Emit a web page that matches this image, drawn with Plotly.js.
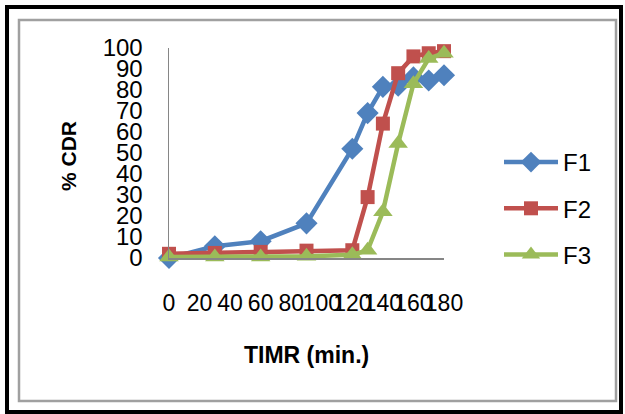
<!DOCTYPE html>
<html>
<head>
<meta charset="utf-8">
<script src="https://cdn.plot.ly/plotly-3.0.1.min.js"></script>
<style>
  html, body { margin: 0; padding: 0; background: #ffffff; }
  #chart { width: 625px; height: 414px; }
</style>
</head>
<body>
<div id="chart"></div>
<script>
// ---- Data ----
const timeMin = [0, 30, 60, 90, 120, 130, 140, 150, 160, 170, 180];
const seriesNames = ["F1", "F2", "F3"];
const f1 = [0, 5.6, 8, 16.5, 52, 69, 81.5, 82, 86, 84.5, 87];
const f2 = [2, 2.4, 2.9, 3.5, 3.7, 29, 64, 88, 96, 97.5, 98.5];
const f3 = [0.5, 0.5, 0.5, 0.8, 1.5, 3.7, 22, 54.5, 83, 95, 97.5];
const xTickVals = [0, 20, 40, 60, 80, 100, 120, 140, 160, 180];
const yTickVals = [0, 10, 20, 30, 40, 50, 60, 70, 80, 90, 100];
const xTitle = "TIMR (min.)";
const yTitle = "% CDR";

// ---- Layout geometry ----
const W = 625, H = 414;
const M = { l: 169, r: 181, t: 48, b: 156 };
const pw = W - M.l - M.r, ph = H - M.t - M.b;
const px = v => (v - M.l) / pw;          // pixel x -> paper
const py = v => (H - M.b - v) / ph;      // pixel y -> paper

const FONT = "Liberation Sans, Arial, sans-serif";
const colors = ["#4F81BD", "#C0504D", "#9BBB59"];
const symbols = ["diamond", "square", "triangle-up"];
const sizes = [17, 14, 17];
const ys = [f1, f2, f3];

const traces = ys.map((y, i) => ({
  type: "scatter",
  mode: "lines+markers",
  x: timeMin,
  y: y,
  name: seriesNames[i],
  legendgroup: "g" + i,
  line: { color: colors[i], width: 4.5 },
  marker: { color: colors[i], symbol: symbols[i], size: sizes[i] },
  cliponaxis: false
}));

const layout = {
  width: W, height: H,
  margin: M,
  paper_bgcolor: "#ffffff",
  plot_bgcolor: "#ffffff",
  font: { family: FONT, color: "#000000" },
  showlegend: true,
  legend: {
    x: px(499), xanchor: "left",
    y: py(140), yanchor: "top",
    font: { family: FONT, size: 24, color: "#000000" },
    itemwidth: 54,
    tracegroupgap: 12,
    bgcolor: "rgba(0,0,0,0)"
  },
  xaxis: {
    range: [0, 180],
    tickmode: "array",
    tickvals: xTickVals,
    ticktext: xTickVals.map(String),
    tickangle: 0,
    ticks: "",
    ticklabelstandoff: 23,
    tickfont: { family: FONT, size: 23, color: "#000000" },
    showgrid: false,
    zeroline: false,
    showline: true,
    linecolor: "#868686",
    linewidth: 2
  },
  yaxis: {
    range: [0, 100],
    tickmode: "array",
    tickvals: yTickVals,
    ticktext: yTickVals.map(String),
    ticks: "",
    ticklabelstandoff: 20,
    tickfont: { family: FONT, size: 24, color: "#000000" },
    showgrid: false,
    zeroline: false,
    showline: true,
    linecolor: "#868686",
    linewidth: 1.5
  },
  annotations: [
    {
      text: "<b>" + yTitle + "</b>", xref: "paper", yref: "paper",
      x: px(68), y: py(156), showarrow: false, textangle: -90,
      xanchor: "center", yanchor: "middle",
      font: { family: FONT, size: 21, color: "#000000" }
    },
    {
      text: "<b>" + xTitle + "</b>", xref: "paper", yref: "paper",
      x: px(306), y: py(355), showarrow: false,
      xanchor: "center", yanchor: "middle",
      font: { family: FONT, size: 23, color: "#000000" }
    }
  ],
  shapes: [
    {
      type: "rect", xref: "paper", yref: "paper", layer: "below",
      x0: px(7), x1: px(621), y0: py(7), y1: py(412),
      line: { color: "#000000", width: 4 }, fillcolor: "rgba(0,0,0,0)"
    },
    {
      type: "rect", xref: "paper", yref: "paper", layer: "below",
      x0: px(19), x1: px(616), y0: py(20), y1: py(401),
      line: { color: "#A0A0A0", width: 2.5 }, fillcolor: "rgba(0,0,0,0)"
    }
  ]
};

Plotly.newPlot("chart", traces, layout, { staticPlot: true, displayModeBar: false });
</script>
</body>
</html>
